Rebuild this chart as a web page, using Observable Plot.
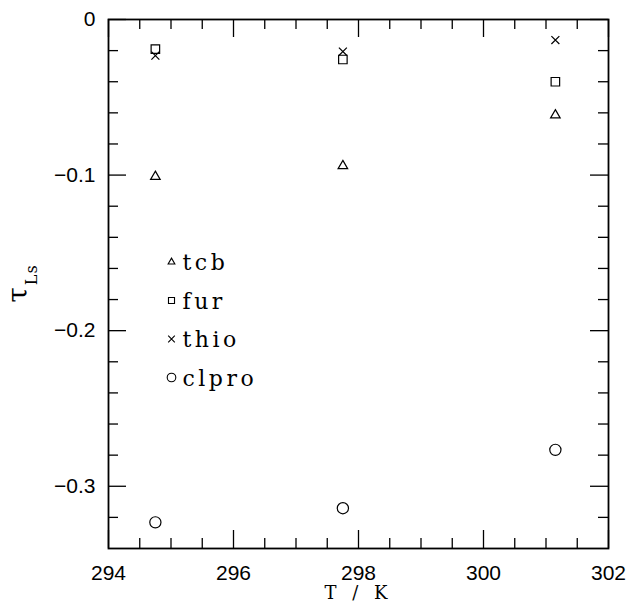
<!DOCTYPE html>
<html><head><meta charset="utf-8">
<script src="https://cdn.jsdelivr.net/npm/d3@7"></script>
<script src="https://cdn.jsdelivr.net/npm/@observablehq/plot@0.6"></script>
<style>body{margin:0;background:#fff;}</style>
</head><body><div id="chart"></div>
<script>
// ---- data ----
const temperatures = [294.75, 297.75, 301.15];
const tcb   = [-0.101, -0.0941, -0.0615];
const fur   = [-0.019, -0.0257, -0.040];
const thio  = [-0.0232, -0.0206, -0.0132];
const clpro = [-0.3232, -0.3141, -0.2766];
const seriesNames = ["tcb", "fur", "thio", "clpro"];
const seriesValues = [tcb, fur, thio, clpro];
const xTicks = [294, 296, 298, 300, 302];
const xTickLabels = ["294", "296", "298", "300", "302"];
const xMinorTicks = [294.5, 295, 295.5, 296.5, 297, 297.5, 298.5, 299, 299.5, 300.5, 301, 301.5];
const yTicks = [0, -0.1, -0.2, -0.3];
const yTickLabels = ["0", "\u22120.1", "\u22120.2", "\u22120.3"];
const yMinorTicks = [-0.02, -0.04, -0.06, -0.08, -0.12, -0.14, -0.16, -0.18, -0.22, -0.24, -0.26, -0.28, -0.32];
const xLabel = "T / K";

// ---- styles ----
const symbolStyle = {
  tcb:   {symbol: "triangle", r: 3.55, rl: 2.5},
  fur:   {symbol: "square",   r: 4.8,  rl: 3.4},
  thio:  {symbol: "times",    r: 3.7,  rl: 3.1},
  clpro: {symbol: "circle",   r: 5.6,  rl: 4.3}
};

const W = 629, H = 603;
const mL = 108, mR = 21, mT = 19, mB = 55;
const innerW = W - mL - mR, innerH = H - mT - mB;
const majorLen = 18, minorLen = 10;

const rows = seriesNames.flatMap((s, si) =>
  temperatures.map((t, i) => ({series: s, T: t, tau: seriesValues[si][i]})));

const tickStyle = {stroke: "black", strokeWidth: 1.3};
const marks = [
  Plot.tickX(xTicks, {x: d => d, insetTop: innerH - majorLen, ...tickStyle}),
  Plot.tickX(xMinorTicks, {x: d => d, insetTop: innerH - minorLen, ...tickStyle}),
  Plot.tickX(xTicks, {x: d => d, insetBottom: innerH - majorLen, ...tickStyle}),
  Plot.tickX(xMinorTicks, {x: d => d, insetBottom: innerH - minorLen, ...tickStyle}),
  Plot.tickY(yTicks, {y: d => d, insetRight: innerW - majorLen, ...tickStyle}),
  Plot.tickY(yMinorTicks, {y: d => d, insetRight: innerW - minorLen, ...tickStyle}),
  Plot.tickY(yTicks, {y: d => d, insetLeft: innerW - majorLen, ...tickStyle}),
  Plot.tickY(yMinorTicks, {y: d => d, insetLeft: innerW - minorLen, ...tickStyle}),
  Plot.frame({stroke: "black", strokeWidth: 1.8}),
  Plot.axisX(xTicks, {anchor: "bottom", tickSize: 0, tickPadding: 17, label: null,
    tickFormat: d => xTickLabels[xTicks.indexOf(d)], fontSize: 21, fontFamily: "Liberation Sans"}),
  Plot.axisY(yTicks, {anchor: "left", tickSize: 0, tickPadding: 13, label: null,
    tickFormat: d => yTickLabels[yTicks.indexOf(d)], fontSize: 21, fontFamily: "Liberation Sans"}),
  Plot.text([xLabel], {frameAnchor: "bottom", dy: 45, text: d => d, fontSize: 18,
    fontFamily: "DejaVu Serif", lineAnchor: "middle"})
];

seriesNames.forEach((s, i) => {
  const st = symbolStyle[s];
  marks.push(Plot.dot(rows.filter(d => d.series === s), {
    x: "T", y: "tau", symbol: st.symbol, r: st.r, stroke: "black", fill: "none", strokeWidth: 1.2
  }));
  marks.push(Plot.dot([s], {frameAnchor: "top-left", dx: 63, dy: 242.5 + 38.5 * i,
    symbol: st.symbol, r: st.rl, stroke: "black", fill: "none", strokeWidth: 1.1}));
  marks.push(Plot.text([s], {frameAnchor: "top-left", dx: 74, dy: 243.5 + 38.5 * i, text: d => d,
    textAnchor: "start", lineAnchor: "middle", fontSize: 22, fontFamily: "DejaVu Serif"}));
});

const chart = Plot.plot({
  width: W, height: H,
  marginLeft: mL, marginRight: mR, marginTop: mT, marginBottom: mB,
  x: {domain: [294, 302]},
  y: {domain: [-0.34, 0]},
  style: {fontFamily: "Liberation Sans", background: "white", color: "black"},
  marks
});
document.getElementById("chart").appendChild(chart);

const svg = d3.select(chart);
svg.selectAll("text")
  .filter(function() { return seriesNames.includes(this.textContent); })
  .attr("letter-spacing", 3.5).style("letter-spacing", "3.5px");
svg.selectAll("text")
  .filter(function() { return this.textContent === xLabel; })
  .attr("letter-spacing", 5).style("letter-spacing", "5px");
const lab = svg.append("text")
  .attr("transform", `translate(27,${mT + innerH / 2}) rotate(-90)`)
  .attr("text-anchor", "middle")
  .attr("font-family", "DejaVu Serif")
  .attr("fill", "black");
lab.append("tspan").attr("font-size", 28).attr("fill", "black").text("\u03C4");
lab.append("tspan").attr("font-size", 16).attr("fill", "black").attr("dy", 10).attr("dx", 2)
  .attr("letter-spacing", 1).text("Ls");
</script>
</body></html>
